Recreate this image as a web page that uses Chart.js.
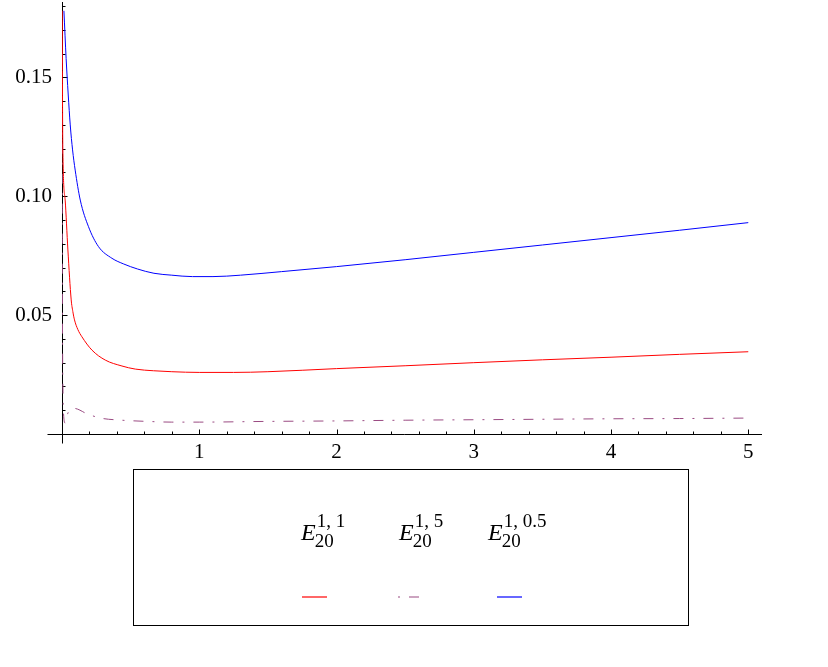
<!DOCTYPE html>
<html lang="en">
<head>
<meta charset="UTF-8">
<title>E20 curves</title>
<style>
  * { margin: 0; padding: 0; box-sizing: border-box; }
  body { background: #fff; }
  #wrap { width: 828px; height: 667px; }
</style>
</head>
<body>
<div id="wrap"><canvas id="chart" width="828" height="667"></canvas></div>
<script src="https://cdn.jsdelivr.net/npm/chart.js@4.4.0/dist/chart.umd.min.js"></script>
<script>
// values
const RED_X = [0.0015, 0.003, 0.006, 0.023, 0.043, 0.067, 0.079, 0.091, 0.115, 0.145, 0.218, 0.315, 0.437, 0.534, 0.667, 0.8, 1.0, 1.25, 1.5, 2.0, 2.5, 3.0, 3.5, 4.0, 4.5, 5.0];
const RED_Y = [0.178, 0.150, 0.120, 0.0984, 0.0774, 0.0564, 0.0515, 0.048, 0.0440, 0.0409, 0.0353, 0.0311, 0.0286, 0.0273, 0.0266, 0.0262, 0.0259, 0.0259, 0.0262, 0.0275, 0.0287, 0.0300, 0.0312, 0.0323, 0.0335, 0.0346];

const DASH_X = [0.001, 0.002, 0.004, 0.008, 0.011, 0.023, 0.043, 0.085, 0.19, 0.29, 0.41, 0.62, 0.8, 1.0, 1.5, 2.0, 2.5, 3.0, 3.5, 4.0, 4.5, 5.0];
const DASH_Y = [0.16, 0.09, 0.04, 0.015, 0.0088, 0.0046, 0.0088, 0.0108, 0.0083, 0.0066, 0.0059, 0.0053, 0.0050, 0.0050, 0.0053, 0.0055, 0.0058, 0.0060, 0.0062, 0.0064, 0.0065, 0.0067];

const BLUE_X = [0.014, 0.03, 0.045, 0.06, 0.077, 0.096, 0.133, 0.193, 0.266, 0.364, 0.45, 0.55, 0.67, 0.8, 0.95, 1.1, 1.3, 1.6, 2.0, 2.5, 3.0, 3.5, 4.0, 4.5, 5.0];
const BLUE_Y = [0.178, 0.158, 0.143, 0.130, 0.1195, 0.111, 0.0984, 0.0872, 0.0788, 0.0739, 0.0715, 0.0694, 0.0676, 0.0668, 0.0662, 0.0662, 0.0668, 0.0683, 0.0704, 0.0733, 0.0764, 0.0795, 0.0826, 0.0857, 0.0889];

const SERIES_COLORS = ['#ff0000', '#9a4a82', '#0000ff'];
const SERIES_SUB = '20';
const SERIES_SUP = ['1, 1', '1, 5', '1, 0.5'];

const X_TICKS = [1, 2, 3, 4, 5];
const Y_TICKS = [0.05, 0.10, 0.15];

const SERIF = "'Liberation Serif', 'Times New Roman', serif";

function toPoints(xs, ys) {
    return xs.map((x, i) => ({ x: x, y: ys[i] }));
}

// axes crossing at the origin, ticks pointing inward
const axesPlugin = {
    id: 'axes',
    beforeDatasetsDraw(chart) {
        const ctx = chart.ctx;
        const xs = chart.scales.x;
        const ys = chart.scales.y;
        const area = chart.chartArea;
        const x0 = Math.round(xs.getPixelForValue(0)) + 0.5;
        const y0 = Math.round(ys.getPixelForValue(0)) + 0.5;

        ctx.save();
        ctx.strokeStyle = '#000';
        ctx.lineWidth = 1;
        ctx.beginPath();
        ctx.moveTo(x0 - 15, y0);
        ctx.lineTo(area.right, y0);
        ctx.moveTo(x0, area.top);
        ctx.lineTo(x0, y0 + 9);

        for (let i = 1; i <= 25; i++) {
            const px = Math.round(xs.getPixelForValue(i / 5)) + 0.5;
            const len = i % 5 === 0 ? 5 : 3;
            ctx.moveTo(px, y0);
            ctx.lineTo(px, y0 - len);
        }
        for (let i = 1; i <= 18; i++) {
            const py = Math.round(ys.getPixelForValue(i / 100)) + 0.5;
            const len = i % 5 === 0 ? 5 : 3;
            ctx.moveTo(x0, py);
            ctx.lineTo(x0 + len, py);
        }
        ctx.stroke();
        ctx.restore();
    }
};

// boxed legend: label on top, line sample below
const legendPlugin = {
    id: 'boxLegend',
    afterDraw(chart) {
        const ctx = chart.ctx;
        const textX = [301, 399, 488];
        const lineX = [302, 398, 497];

        ctx.save();
        ctx.strokeStyle = '#000';
        ctx.lineWidth = 1;
        ctx.strokeRect(133.5, 469.5, 555, 156);

        chart.data.datasets.forEach((ds, i) => {
            const x = textX[i];
            ctx.fillStyle = '#000';
            ctx.textAlign = 'left';
            ctx.textBaseline = 'alphabetic';
            ctx.font = 'italic 24px ' + SERIF;
            ctx.fillText('E', x, 540);
            const ew = ctx.measureText('E').width;
            ctx.font = '19px ' + SERIF;
            ctx.fillText(SERIES_SUB, x + ew - 1, 547);
            ctx.fillText(SERIES_SUP[i], x + ew + 1, 527);

            ctx.strokeStyle = SERIES_COLORS[i];
            ctx.lineWidth = 1.2;
            const dash = ds.borderDash || [];
            ctx.setLineDash(dash);
            ctx.lineDashOffset = dash.length ? dash[0] + dash[1] : 0;
            ctx.beginPath();
            ctx.moveTo(lineX[i], 597);
            ctx.lineTo(lineX[i] + 25, 597);
            ctx.stroke();
            ctx.setLineDash([]);
        });
        ctx.restore();
    }
};

const lineStyle = {
    showLine: true,
    fill: false,
    pointRadius: 0,
    borderWidth: 1,
    cubicInterpolationMode: 'monotone'
};

new Chart(document.getElementById('chart'), {
    type: 'scatter',
    data: {
        datasets: [
            Object.assign({ label: 'E20 1,1', data: toPoints(RED_X, RED_Y), borderColor: SERIES_COLORS[0] }, lineStyle),
            Object.assign({ label: 'E20 1,5', data: toPoints(DASH_X, DASH_Y), borderColor: SERIES_COLORS[1], borderDash: [10, 9, 2, 9] }, lineStyle),
            Object.assign({ label: 'E20 1,0.5', data: toPoints(BLUE_X, BLUE_Y), borderColor: SERIES_COLORS[2] }, lineStyle)
        ]
    },
    options: {
        responsive: false,
        animation: false,
        layout: { padding: { top: 2, right: 66, left: 0, bottom: 0 } },
        plugins: {
            legend: { display: false },
            tooltip: { enabled: false }
        },
        scales: {
            x: {
                type: 'linear',
                min: 0,
                max: 5.1,
                grid: { display: false, drawTicks: false },
                border: { display: false },
                afterBuildTicks: s => { s.ticks = X_TICKS.map(v => ({ value: v })); },
                afterFit: s => {
                    s.height = 233;
                    s.paddingLeft = 0;
                    s.paddingRight = 0;
                },
                ticks: {
                    color: '#000',
                    font: { family: SERIF, size: 21 },
                    padding: 6,
                    maxRotation: 0,
                    autoSkip: false,
                    callback: v => String(v)
                }
            },
            y: {
                type: 'linear',
                min: 0,
                max: 0.1817,
                grid: { display: false, drawTicks: false },
                border: { display: false },
                afterBuildTicks: s => { s.ticks = Y_TICKS.map(v => ({ value: v })); },
                afterFit: s => {
                    s.width = 62;
                    s.paddingTop = 0;
                    s.paddingBottom = 0;
                },
                ticks: {
                    color: '#000',
                    font: { family: SERIF, size: 21 },
                    padding: 10,
                    autoSkip: false,
                    callback: v => v.toFixed(2)
                }
            }
        }
    },
    plugins: [axesPlugin, legendPlugin]
});
</script>
</body>
</html>
